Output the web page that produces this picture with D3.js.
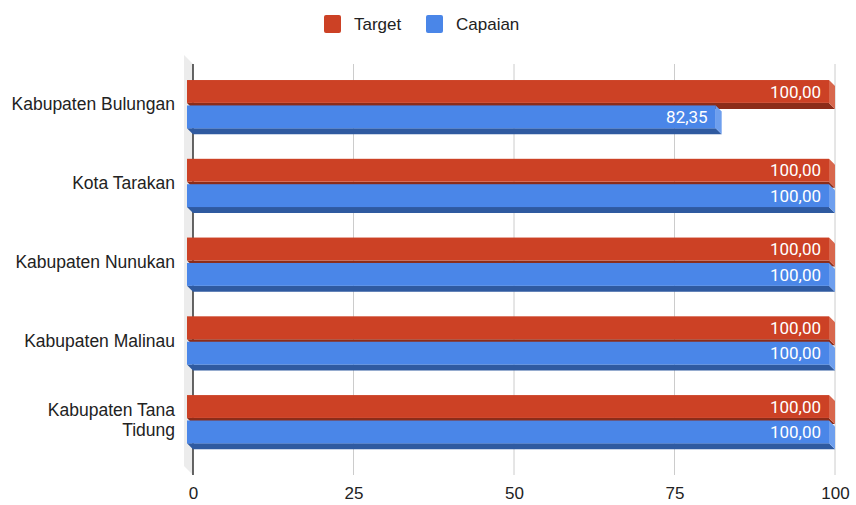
<!DOCTYPE html>
<html>
<head>
<meta charset="utf-8">
<script src="https://cdn.jsdelivr.net/npm/d3@7"></script>
<style>
  html, body { margin: 0; padding: 0; background: #fff; }
  svg { display: block; }
</style>
</head>
<body>
<svg id="chart" width="856" height="505"></svg>
<script>
const categories = [
  ["Kabupaten Bulungan"],
  ["Kota Tarakan"],
  ["Kabupaten Nunukan"],
  ["Kabupaten Malinau"],
  ["Kabupaten Tana", "Tidung"]
];
const seriesNames = ["Target", "Capaian"];
const targetValues = [100, 100, 100, 100, 100];
const capaianValues = [82.35, 100, 100, 100, 100];
const xTicks = [0, 25, 50, 75, 100];

const colors = {
  Target: { front: "#cc4125", side: "#d8674d", bottom: "#8c2c19" },
  Capaian: { front: "#4a86e8", side: "#6e9fee", bottom: "#2f5aa0" }
};

const svg = d3.select("#chart");
const DX = 6, DY = 6;       // bar depth
const WX = 9, WY = 9;       // left wall depth
const plotTop = 64, plotBottom = 475;
const font = "'Liberation Sans', Arial, Helvetica, sans-serif";

const x = d3.scaleLinear().domain([0, 100]).range([193, 835]);
const catKeys = categories.map(c => c.join(" "));
const y = d3.scaleBand().domain(catKeys).range([64.8, 458.6]).paddingInner(0.387).paddingOuter(0.1935);
const ys = d3.scaleBand().domain(seriesNames).range([0, y.bandwidth()]).paddingInner(0.1);

// left wall
svg.append("polygon")
  .attr("points", [[x(0) - WX, plotTop - WY], [x(0), plotTop], [x(0), plotBottom], [x(0) - WX, plotBottom - WY]].map(p => p.join(",")).join(" "))
  .attr("fill", "#ececec");

// grid lines
svg.append("g").selectAll("line").data(xTicks.filter(t => t !== 0)).join("line")
  .attr("x1", d => x(d)).attr("x2", d => x(d))
  .attr("y1", plotTop).attr("y2", plotBottom)
  .attr("stroke", "#cccccc").attr("stroke-width", 1);

// zero axis line
svg.append("line")
  .attr("x1", x(0)).attr("x2", x(0)).attr("y1", plotTop).attr("y2", plotBottom)
  .attr("stroke", "#333").attr("stroke-width", 1.5);

// x-axis tick labels via d3 axis
const axisG = svg.append("g").attr("transform", `translate(0,${plotBottom})`)
  .call(d3.axisBottom(x).tickValues(xTicks).tickSize(0).tickPadding(12).tickFormat(d3.format("d")));
axisG.select(".domain").remove();
axisG.selectAll("text").attr("font-family", font).attr("font-size", 17).attr("fill", "#222");

// bars
const rows = [];
catKeys.forEach((k, i) => {
  rows.push({ cat: k, s: "Target", v: targetValues[i] });
  rows.push({ cat: k, s: "Capaian", v: capaianValues[i] });
});
const fmt = v => d3.format(".2f")(v).replace(".", ",");

const barG = svg.append("g");
rows.forEach(r => {
  const x0 = x(0) - DX, x1 = x(r.v) - DX;
  const y0 = y(r.cat) + ys(r.s), y1 = y0 + ys.bandwidth();
  const c = colors[r.s];
  const g = barG.append("g");
  g.append("polygon")
    .attr("points", [[x0, y1], [x1, y1], [x1 + DX, y1 + DY], [x0 + DX, y1 + DY]].map(p => p.join(",")).join(" "))
    .attr("fill", c.bottom);
  g.append("polygon")
    .attr("points", [[x1, y0], [x1 + DX, y0 + DY], [x1 + DX, y1 + DY], [x1, y1]].map(p => p.join(",")).join(" "))
    .attr("fill", c.side);
  g.append("rect")
    .attr("x", x0).attr("y", y0).attr("width", x1 - x0).attr("height", y1 - y0)
    .attr("fill", c.front);
  g.append("text")
    .attr("x", x1 - 8).attr("y", (y0 + y1) / 2)
    .attr("dy", "0.36em")
    .attr("text-anchor", "end")
    .attr("font-family", "Roboto, sans-serif").attr("font-size", 17)
    .attr("fill", "#fff")
    .text(fmt(r.v));
});

// category labels
categories.forEach((lines, i) => {
  const cy = y(catKeys[i]) + y.bandwidth() / 2;
  const lh = 20;
  const t = svg.append("text")
    .attr("text-anchor", "end")
    .attr("font-family", font).attr("font-size", 17.5).attr("fill", "#222");
  lines.forEach((ln, j) => {
    t.append("tspan")
      .attr("x", 175)
      .attr("y", cy + (j - (lines.length - 1) / 2) * lh)
      .attr("dy", "0.36em")
      .text(ln);
  });
});

// legend
const legend = svg.append("g");
const legendItems = [{ name: "Target", x: 324 }, { name: "Capaian", x: 426 }];
legendItems.forEach(it => {
  legend.append("rect")
    .attr("x", it.x).attr("y", 15).attr("width", 17).attr("height", 18)
    .attr("rx", 2).attr("fill", colors[it.name].front);
  legend.append("text")
    .attr("x", it.x + 30).attr("y", 24).attr("dy", "0.36em")
    .attr("font-family", font).attr("font-size", 17).attr("fill", "#222")
    .text(it.name);
});
</script>
</body>
</html>
